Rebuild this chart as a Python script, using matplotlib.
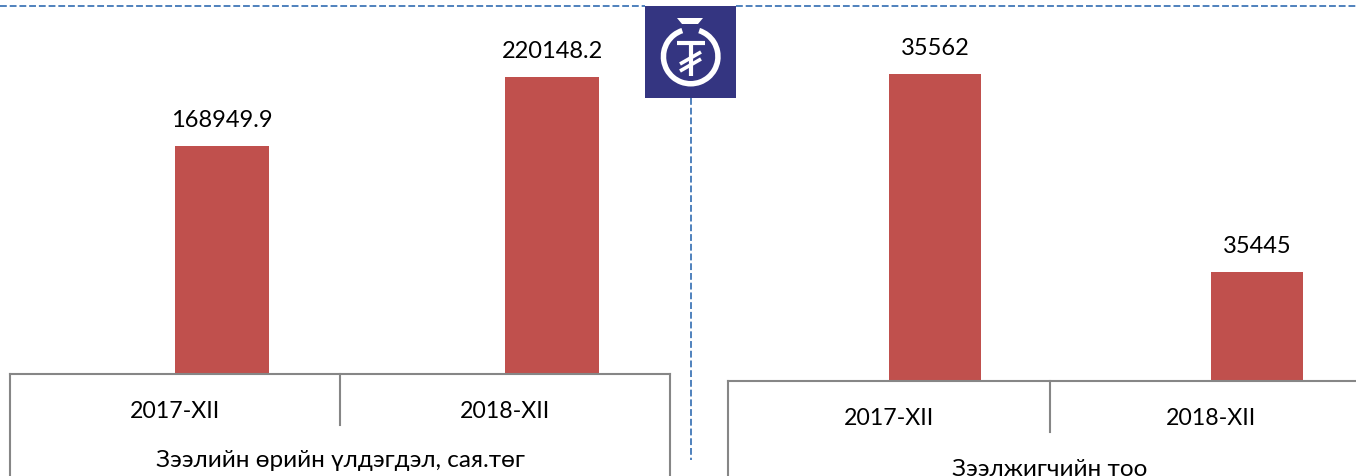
import matplotlib
matplotlib.use('Agg')
import matplotlib.pyplot as plt
from matplotlib.patches import Rectangle, Wedge, Polygon

plt.rcParams['font.family'] = ['Lato', 'DejaVu Sans']

# Data
periods = ['2017-XII', '2018-XII']
balance = [168949.9, 220148.2]
borrowers = [35562, 35445]
balance_title = 'Зээлийн өрийн үлдэгдэл, сая.төг'
borrowers_title = 'Зээлжигчийн тоо'

W, H = 1356, 477
BAR = '#C0504D'
AXIS = '#868686'
DASH = '#4F81BD'
NAVY = '#343581'

fig = plt.figure(figsize=(W / 100, H / 100), dpi=100)

# Axes placed in picture pixels
def panel(x0, x1, base):
    return fig.add_axes([x0 / W, (H - base) / H, (x1 - x0) / W, base / H])

def draw_panel(ax, values, ymin, ymax, labels, title, fmt, base, sep_end, tick_pad, title_pad):
    x = [i + 0.5 for i in range(len(values))]
    ax.bar(x, values, width=0.285, align='edge', color=BAR, bottom=0)
    ax.set_xlim(0, 2)
    ax.set_ylim(ymin, ymax)
    for px, v in zip(x, values):
        ax.annotate(fmt(v), (px + 0.1425, v), xytext=(0, 16), textcoords='offset pixels',
                    ha='center', va='bottom', fontsize=17, color='black')
    for s in ['top', 'left', 'right']:
        ax.spines[s].set_visible(False)
    ax.spines['bottom'].set_color(AXIS)
    ax.spines['bottom'].set_linewidth(1.5)
    ax.set_yticks([])
    ax.set_xticks(x, labels, fontsize=16.7)
    ax.tick_params(axis='x', length=0, pad=tick_pad)
    ax.set_xlabel(title, fontsize=17.5, labelpad=title_pad)
    # multi-level category separators under the axis
    tr = ax.get_xaxis_transform()
    low = -(H - base) / base
    ax.plot([0, 0], [0, low], color=AXIS, lw=1.5, transform=tr, clip_on=False)
    ax.plot([2, 2], [0, low], color=AXIS, lw=1.5, transform=tr, clip_on=False)
    ax.plot([1, 1], [0, -(sep_end - base) / base], color=AXIS, lw=1.5, transform=tr, clip_on=False)

left = panel(10, 670, 375)
draw_panel(left, balance, 0, 375 * 741.0, periods, balance_title,
           lambda v: f'{v:.1f}', 375, 426, 19, 20)

right = panel(728, 1372, 382)
draw_panel(right, borrowers, 35380.6, 35380.6 + 382 * 0.591, periods, borrowers_title,
           lambda v: f'{v}', 382, 433, 19, 21)

# Overlay in pixel coordinates: dashed guides and logo
ov = fig.add_axes([0, 0, 1, 1])
ov.set_xlim(0, W)
ov.set_ylim(H - 1, -1)
ov.axis('off')
ov.patch.set_alpha(0)

ov.plot([0, 645], [6, 6], color=DASH, lw=1.4, ls=(0, (3.5, 1.5)))
ov.plot([736, W], [6, 6], color=DASH, lw=1.4, ls=(0, (3.5, 1.5)))
ov.plot([691, 691], [98, 460], color=DASH, lw=1.4, ls=(0, (3.5, 1.5)))

ov.add_patch(Rectangle((645, 6), 91, 92, color=NAVY, lw=0))
cx, cy = 690.7, 56.5
ov.add_patch(Wedge((cx, cy), 30, 288, 612, width=5.5, color='white', lw=0))
ov.add_patch(Polygon([(677, 18), (703, 18), (698, 24), (682, 24)], color='white', lw=0))
ov.plot([677, 705], [43, 43], color='white', lw=3, solid_capstyle='butt')
ov.plot([690.5, 690.5], [43, 76], color='white', lw=3, solid_capstyle='butt')
ov.plot([680, 701], [64, 52], color='white', lw=2.6, solid_capstyle='butt')
ov.plot([680, 701], [71, 59], color='white', lw=2.6, solid_capstyle='butt')

fig.savefig('out.png', dpi=100)
